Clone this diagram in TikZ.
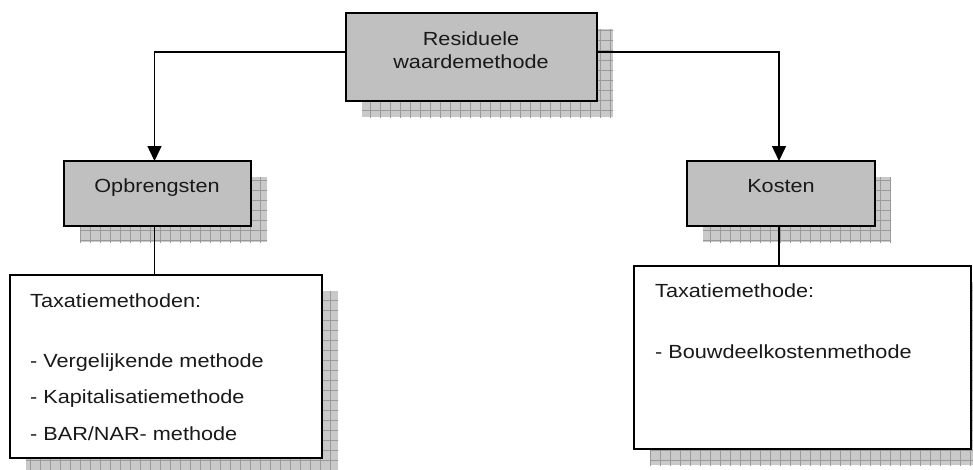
\documentclass[tikz,border=0pt]{standalone}
\usepackage{fontspec}
\setmainfont{Liberation Sans}[FakeStretch=1.14]
\usetikzlibrary{calc,backgrounds,arrows.meta}

\definecolor{boxgrey}{HTML}{C0C0C0}
\definecolor{shadefill}{HTML}{C9C9C9}
\definecolor{shadeline}{HTML}{9A9A9A}

\tikzset{
  box/.style={draw=black, line width=2pt, anchor=north west, inner sep=0pt, outer sep=0pt},
  headbox/.style={box, fill=boxgrey},
  textbox/.style={box, fill=white},
  link/.style={line width=1.5pt},
  tip/.style={-{Triangle[length=15pt,width=14pt]}},
  lbl/.style={inner sep=0pt, text=black!90, font=\fontsize{19}{22}\selectfont},
}

% hatched drop shadow behind a box, offset down and to the right
\newcommand\gridshadow[1]{%
  \begin{scope}
    \clip ($(#1.north west)+(16,16)$) rectangle ($(#1.south east)+(16,16)$);
    \fill[shadefill] ($(#1.north west)+(16,16)$) rectangle ($(#1.south east)+(16,16)$);
    \draw[shadeline, line width=0.9pt, step=10pt]
      ($(#1.north west)+(6,6)$) grid ($(#1.south east)+(26,26)$);
  \end{scope}}

\begin{document}
\begin{tikzpicture}[x=1pt, y=-1pt]
  \useasboundingbox (0,0) rectangle (973,469);

  % boxes
  \node[headbox, minimum width=251pt, minimum height=88pt] (top) at (346,13) {};
  \node[headbox, minimum width=187pt, minimum height=65pt] (opb) at (64,161) {};
  \node[headbox, minimum width=188pt, minimum height=65pt] (kos) at (687,161) {};
  \node[textbox, minimum width=312pt, minimum height=183pt] (opbtx) at (10,275) {};
  \node[textbox, minimum width=337pt, minimum height=183pt] (kostx) at (634,266) {};

  % labels
  \node[lbl, anchor=base] (t1) at (471,45) {Residuele};
  \node[lbl, anchor=base] (t2) at (471,68) {waardemethode};
  \node[lbl, anchor=base] (o1) at (157,192) {Opbrengsten};
  \node[lbl, anchor=base] (k1) at (781,192) {Kosten};

  \node[lbl, anchor=base west] (l1) at (30,307) {Taxatiemethoden:};
  \node[lbl, anchor=base west] (l2) at (30,367) {- Vergelijkende methode};
  \node[lbl, anchor=base west] (l3) at (30,403.5) {- Kapitalisatiemethode};
  \node[lbl, anchor=base west] (l4) at (30,440) {- BAR/NAR- methode};

  \node[lbl, anchor=base west] (r1) at (655,297) {Taxatiemethode:};
  \node[lbl, anchor=base west] (r2) at (655,358) {- Bouwdeelkostenmethode};

  % connectors
  \coordinate (tl) at ($(top.north west)+(0,39)$);
  \coordinate (tr) at ($(top.north east)+(0,39)$);
  \coordinate (opbtop) at ($(opb.north)+(-3,0)$);
  \coordinate (kostop) at ($(kos.north)+(-2,0)$);
  \draw[link, tip] (tl) -| (opbtop);
  \draw[link, tip] (tr) -| (kostop);
  \draw[link] (opbtop |- opb.south) -- (opbtop |- opbtx.north);
  \draw[link] (kostop |- kos.south) -- (kostop |- kostx.north);

  % page ground and shadows, beneath everything else
  \begin{pgfonlayer}{background}
    \fill[white] (0,0) rectangle (973,469);
    \gridshadow{top}
    \gridshadow{opb}
    \gridshadow{kos}
    \gridshadow{opbtx}
    \gridshadow{kostx}
  \end{pgfonlayer}
\end{tikzpicture}
\end{document}
